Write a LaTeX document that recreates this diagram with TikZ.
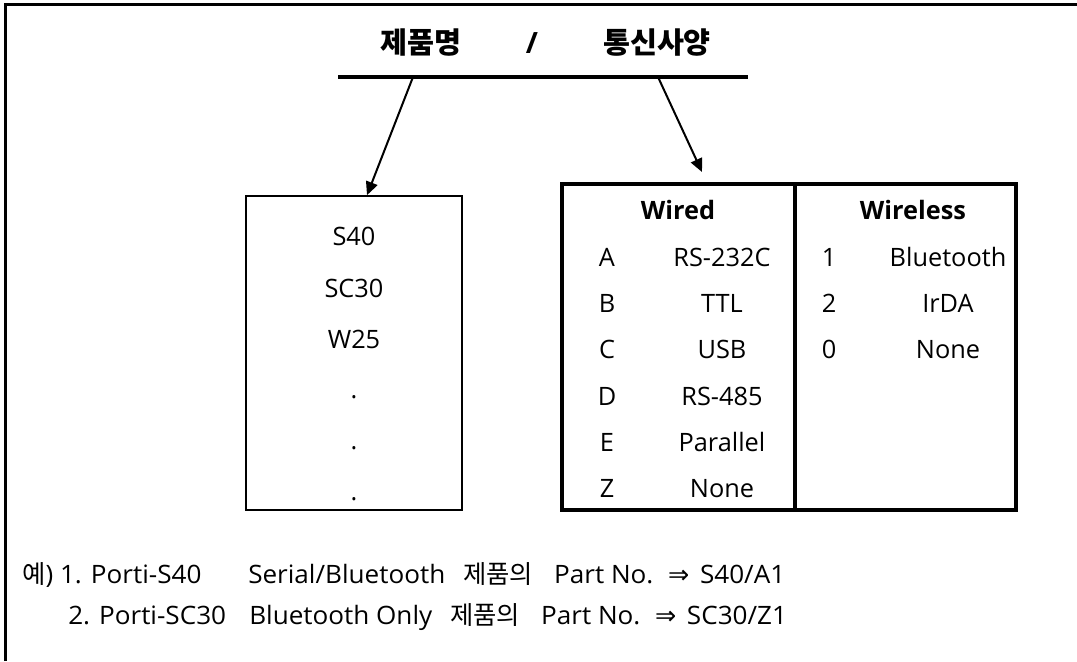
\documentclass[tikz,border=0pt]{standalone}
\usepackage{fontspec}
\setmainfont{Open Sans}
\newfontfamily\krfont{Noto Sans CJK KR}
\newfontfamily\notefont[FakeStretch=1.03]{Open Sans}
\newfontfamily\symfont{DejaVu Sans}
\usetikzlibrary{arrows.meta, positioning, calc}

\begin{document}
\begin{tikzpicture}[
    x=0.75pt,
    y=-0.75pt,
    cell/.style={
        anchor=base,
        inner sep=0pt,
        font=\fontsize{19pt}{22pt}\selectfont
    },
    head/.style={
        cell,
        font=\fontsize{19pt}{22pt}\selectfont\bfseries
    },
    title/.style={
        anchor=base,
        inner sep=0pt,
        font=\fontsize{22pt}{26pt}\selectfont\bfseries
    },
    note/.style={
        anchor=base west,
        inner sep=0pt,
        font=\fontsize{19pt}{22pt}\notefont
    },
    box/.style={
        rectangle,
        draw,
        line width=1.2pt,
        inner sep=0pt
    },
    line/.style={
        draw,
        -{Triangle[length=10pt, width=9pt]},
        line width=1.5pt
    }
]

    \useasboundingbox (0,0) rectangle (1077,661);

    \draw [line width=2.6pt] (5.5,661) -- (5.5,4.5) -- (1077,4.5);

    \node [title] (name) at (421,53) {\krfont 제품명};
    \node [title] (slash) at (532,53) {/};
    \node [title] (comm) at (657,53) {\krfont 통신사양};

    \coordinate (ruleleft) at (338,77);
    \coordinate (ruleright) at (748,77);
    \draw [line width=3pt] (ruleleft) -- (ruleright);

    \node [box, minimum width=162pt, minimum height=235.5pt] (model) at (354,353) {};
    \node [box, line width=2.5pt, minimum width=340.5pt, minimum height=244.5pt] (spec) at (789,347) {};
    \coordinate (divx) at (795,0);
    \draw [line width=2.5pt] (spec.north -| divx) -- (spec.south -| divx);

    \coordinate (lfrom) at (413,77);
    \coordinate (rfrom) at (658,77);
    \coordinate (rtip) at (702,172);
    \draw [line] (lfrom) -- ([xshift=9.75pt]model.north);
    \draw [line] (rfrom) -- (rtip);

    \node [cell] (m1) at (354,245) {S40};
    \node [cell] (m2) at (354,297) {SC30};
    \node [cell] (m3) at (354,348) {W25};
    \node [cell] (m4) at (354,398) {.};
    \node [cell] (m5) at (354,449) {.};
    \node [cell] (m6) at (354,500) {.};

    \node [head] (wired) at (678,219.5) {Wired};
    \node [head] (wireless) at (913,219.5) {Wireless};

    \node [cell] (ka) at (607,266.5) {A};
    \node [cell] (va) at (722,266.5) {RS-232C};
    \node [cell] (kb) at (607,312.7) {B};
    \node [cell] (vb) at (722,312.7) {TTL};
    \node [cell] (kc) at (607,358.9) {C};
    \node [cell] (vc) at (722,358.9) {USB};
    \node [cell] (kd) at (607,405.1) {D};
    \node [cell] (vd) at (722,405.1) {RS-485};
    \node [cell] (ke) at (607,451.3) {E};
    \node [cell] (ve) at (722,451.3) {Parallel};
    \node [cell] (kz) at (607,497.5) {Z};
    \node [cell] (vz) at (722,497.5) {None};

    \node [cell] (k1) at (829,266.5) {1};
    \node [cell] (v1) at (948,266.5) {Bluetooth};
    \node [cell] (k2) at (829,312.7) {2};
    \node [cell] (v2) at (948,312.7) {IrDA};
    \node [cell] (k0) at (829,358.9) {0};
    \node [cell] (v0) at (948,358.9) {None};

    \node [note] (ex1) at (22,583) {{\krfont 예}) 1. Porti-S40};
    \node [note] (ex1txt) at (248,583) {Serial/Bluetooth\hspace{13.5pt}{\krfont 제품의}\hspace{15.75pt}Part No.\hspace{11pt}{\symfont ⇒}\hspace{8pt}S40/A1};
    \node [note] (ex2) at (68,624) {2. Porti-SC30};
    \node [note] (ex2txt) at (249,624) {Bluetooth Only\hspace{13.5pt}{\krfont 제품의}\hspace{15.75pt}Part No.\hspace{11pt}{\symfont ⇒}\hspace{8pt}SC30/Z1};

\end{tikzpicture}
\end{document}
